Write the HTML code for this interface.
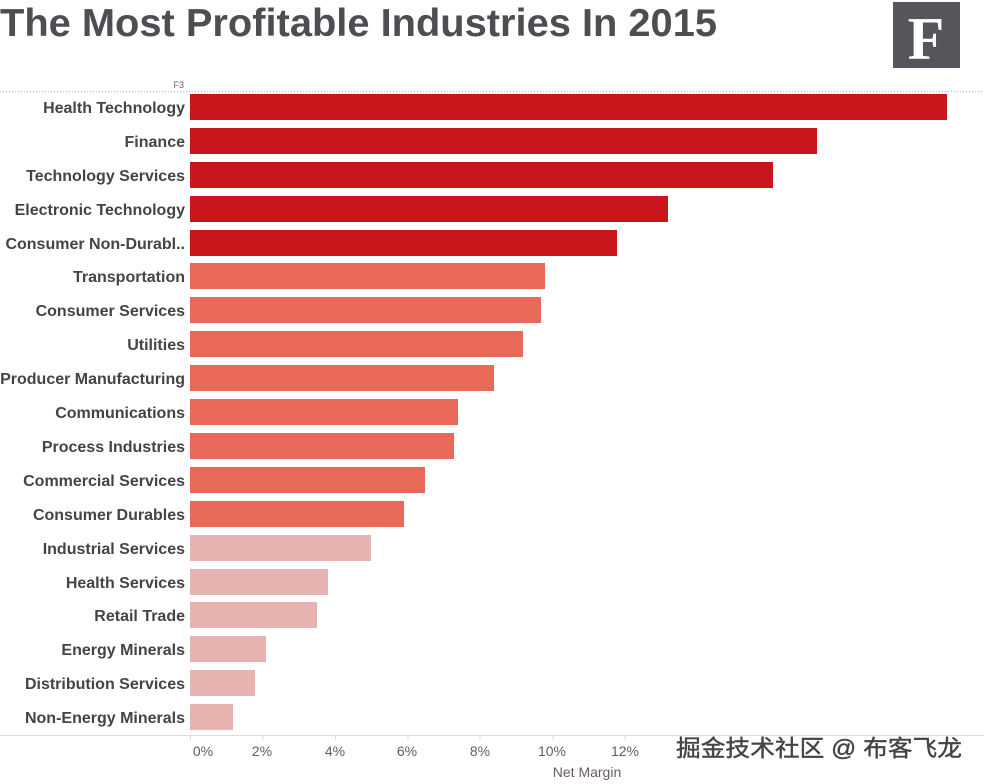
<!DOCTYPE html>
<html><head><meta charset="utf-8"><style>body{margin:0;background:#fff}svg{display:block}</style></head>
<body>
<svg width="984" height="784" xmlns="http://www.w3.org/2000/svg" font-family="Liberation Sans, Arial, sans-serif">
<rect width="984" height="784" fill="#fff"/>
<text x="0" y="36" font-size="39" font-weight="bold" fill="#4d4d52" textLength="717" lengthAdjust="spacingAndGlyphs">The Most Profitable Industries In 2015</text>
<rect x="893" y="2" width="67" height="66" fill="#55565c"/>
<text x="926" y="59" font-family="Liberation Serif, serif" font-size="60" font-weight="bold" fill="#fff" text-anchor="middle">F</text>
<text x="184" y="88" font-size="9" fill="#666" text-anchor="end">F3</text>
<line x1="0" y1="91.5" x2="984" y2="91.5" stroke="#bbb" stroke-dasharray="1,2"/>
<g font-size="16" font-weight="bold" fill="#444" text-anchor="end">
<text x="185" y="113">Health Technology</text>
<text x="185" y="147">Finance</text>
<text x="185" y="181">Technology Services</text>
<text x="185" y="215">Electronic Technology</text>
<text x="185" y="249">Consumer Non-Durabl..</text>
<text x="185" y="282">Transportation</text>
<text x="185" y="316">Consumer Services</text>
<text x="185" y="350">Utilities</text>
<text x="185" y="384">Producer Manufacturing</text>
<text x="185" y="418">Communications</text>
<text x="185" y="452">Process Industries</text>
<text x="185" y="486">Commercial Services</text>
<text x="185" y="520">Consumer Durables</text>
<text x="185" y="554">Industrial Services</text>
<text x="185" y="588">Health Services</text>
<text x="185" y="621">Retail Trade</text>
<text x="185" y="655">Energy Minerals</text>
<text x="185" y="689">Distribution Services</text>
<text x="185" y="723">Non-Energy Minerals</text>
</g>
<g fill="#c8161c">
<rect x="190" y="94" width="757" height="26"/>
<rect x="190" y="128" width="627" height="26"/>
<rect x="190" y="162" width="583" height="26"/>
<rect x="190" y="196" width="478" height="26"/>
<rect x="190" y="230" width="427" height="26"/>
</g>
<g fill="#e8695a">
<rect x="190" y="263" width="355" height="26"/>
<rect x="190" y="297" width="351" height="26"/>
<rect x="190" y="331" width="333" height="26"/>
<rect x="190" y="365" width="304" height="26"/>
<rect x="190" y="399" width="268" height="26"/>
<rect x="190" y="433" width="264" height="26"/>
<rect x="190" y="467" width="235" height="26"/>
<rect x="190" y="501" width="214" height="26"/>
</g>
<g fill="#e6b3b0">
<rect x="190" y="535" width="181" height="26"/>
<rect x="190" y="569" width="138" height="26"/>
<rect x="190" y="602" width="127" height="26"/>
<rect x="190" y="636" width="76" height="26"/>
<rect x="190" y="670" width="65" height="26"/>
<rect x="190" y="704" width="43" height="26"/>
</g>
<line x1="0" y1="735.5" x2="984" y2="735.5" stroke="#ddd"/>
<g stroke="#ddd"><line x1="190.5" y1="735" x2="190.5" y2="740"/><line x1="263" y1="735" x2="263" y2="740"/><line x1="335.5" y1="735" x2="335.5" y2="740"/><line x1="408" y1="735" x2="408" y2="740"/><line x1="480" y1="735" x2="480" y2="740"/><line x1="553" y1="735" x2="553" y2="740"/><line x1="625" y1="735" x2="625" y2="740"/></g>
<g font-size="14" fill="#6a5a5c" text-anchor="middle">
<text x="203" y="756">0%</text><text x="262" y="756">2%</text><text x="335" y="756">4%</text><text x="407" y="756">6%</text><text x="480" y="756">8%</text><text x="552" y="756">10%</text><text x="625" y="756">12%</text>
<text x="587" y="777">Net Margin</text>
</g>
<text x="676" y="756" font-family="Liberation Sans, Noto Sans CJK SC, sans-serif" font-size="23" fill="#444" stroke="#444" stroke-width="0.4" textLength="286" lengthAdjust="spacingAndGlyphs">掘金技术社区 @ 布客飞龙</text>
</svg>
</body></html>
